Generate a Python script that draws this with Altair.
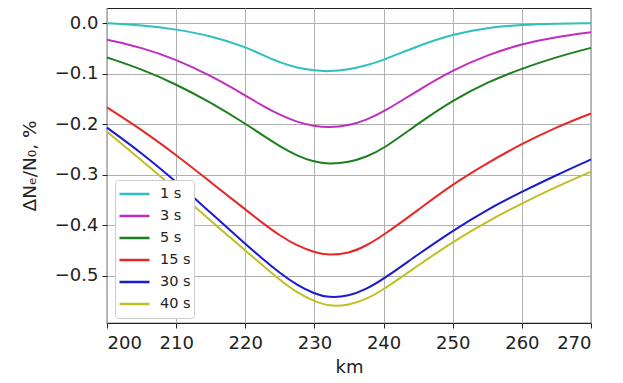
import altair as alt
import pandas as pd

km = [200, 205, 210, 215, 220, 222.5, 225, 227.5, 230, 232, 235, 237.5, 240, 245, 250, 255, 260, 265, 270]

s1 = [0.0, -0.004, -0.012, -0.025, -0.047, -0.063, -0.078, -0.089, -0.094, -0.096, -0.092, -0.084, -0.073, -0.045, -0.022, -0.009, -0.003, -0.001, 0.0]
s3 = [-0.033, -0.048, -0.072, -0.104, -0.143, -0.164, -0.182, -0.196, -0.204, -0.207, -0.203, -0.192, -0.176, -0.133, -0.093, -0.063, -0.041, -0.027, -0.018]
s5 = [-0.068, -0.091, -0.121, -0.157, -0.199, -0.222, -0.244, -0.263, -0.275, -0.279, -0.276, -0.265, -0.249, -0.199, -0.153, -0.117, -0.090, -0.067, -0.049]
s15 = [-0.167, -0.211, -0.261, -0.315, -0.369, -0.396, -0.421, -0.441, -0.454, -0.460, -0.456, -0.441, -0.420, -0.370, -0.319, -0.277, -0.239, -0.206, -0.179]
s30 = [-0.207, -0.257, -0.314, -0.376, -0.437, -0.467, -0.495, -0.519, -0.536, -0.544, -0.541, -0.527, -0.507, -0.458, -0.411, -0.369, -0.334, -0.301, -0.270]
s40 = [-0.215, -0.272, -0.330, -0.392, -0.450, -0.480, -0.509, -0.534, -0.551, -0.561, -0.559, -0.547, -0.528, -0.480, -0.433, -0.393, -0.357, -0.324, -0.294]

labels = ["1 s", "3 s", "5 s", "15 s", "30 s", "40 s"]
series = [s1, s3, s5, s15, s30, s40]
colors = ["#2ebfbf", "#bf2ebf", "#1f7f1f", "#e62828", "#1a1ad0", "#bfbf26"]

x_ticks = [200, 210, 220, 230, 240, 250, 260, 270]
y_ticks = [0.0, -0.1, -0.2, -0.3, -0.4, -0.5]

rows = []
for lab, vals in zip(labels, series):
    for k, v in zip(km, vals):
        rows.append({"km": k, "val": v, "series": lab})
df = pd.DataFrame(rows)

font = "DejaVu Sans"

chart = alt.Chart(df).mark_line(strokeWidth=2, interpolate="basis").encode(
    x=alt.X("km:Q",
            scale=alt.Scale(domain=[200, 270], nice=False, zero=False),
            axis=alt.Axis(title="km", values=x_ticks, format="d", grid=True,
                          labelFontSize=18, titleFontSize=18, labelPadding=6,
                          titlePadding=6, tickSize=5)),
    y=alt.Y("val:Q",
            scale=alt.Scale(domain=[-0.594, 0.03], nice=False, zero=False),
            axis=alt.Axis(title="ΔNₑ/N₀, %", values=y_ticks, format=".1f", grid=True,
                          labelFontSize=18, titleFontSize=18.5, labelPadding=4,
                          titlePadding=15, tickSize=5)),
    color=alt.Color("series:N",
                    scale=alt.Scale(domain=labels, range=colors),
                    sort=labels,
                    legend=alt.Legend(title=None, orient="none", legendX=8, legendY=172,
                                      fillColor="white", strokeColor="#cccccc",
                                      cornerRadius=3, padding=3,
                                      symbolType="stroke", symbolStrokeWidth=2.5,
                                      symbolSize=900, clipHeight=22,
                                      labelFontSize=14.5, labelFont=font,
                                      labelColor="#222222",
                                      labelOffset=9, rowPadding=0)),
    detail="series:N",
).properties(
    width=484, height=315,
    background="white",
    autosize=alt.AutoSizeParams(type="none"),
    padding={"left": 99, "top": 0, "right": 20, "bottom": 60},
).configure_axis(
    labelFont=font, titleFont=font, labelColor="#222222", titleColor="#222222",
    titleFontWeight="normal", gridColor="#b0b0b0", gridWidth=1, domain=False,
    tickColor="#222222", tickWidth=1,
).configure_view(
    stroke="#222222", strokeWidth=1.2,
)

chart.save("out.html", embed_options={"renderer": "svg", "actions": False})
